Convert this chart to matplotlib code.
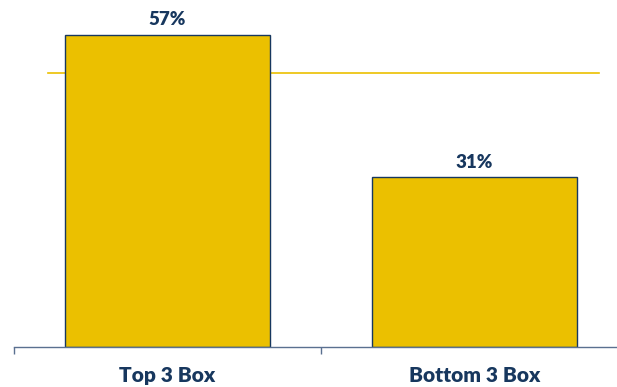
import matplotlib
matplotlib.use("Agg")
import matplotlib.pyplot as plt

categories = ["Top 3 Box", "Bottom 3 Box"]
values = [57, 31]
value_labels = ["57%", "31%"]
reference_value = 50

navy = "#17375E"
gold = "#EBC000"

fig = plt.figure(figsize=(6.17, 3.87), dpi=100)
W, H = 617, 387
ax = fig.add_axes([14 / W, (H - 347) / H, 614 / W, 345 / H])

x = list(range(len(categories)))
ax.bar(x, values, width=0.665, color=gold, edgecolor=navy, linewidth=1.0, zorder=2)
ax.plot([-0.39, 1.407], [reference_value, reference_value], color=gold, linewidth=1.2, zorder=1)

for xi, v, lab in zip(x, values, value_labels):
    ax.text(xi, v + 1.2, lab, ha="center", va="bottom", color=navy,
            fontsize=13.5, fontweight="heavy", family=["Lato", "DejaVu Sans"])

ax.set_xlim(-0.5, 1.5)
ax.set_ylim(0, 63)
for s in ["top", "right", "left"]:
    ax.spines[s].set_visible(False)
ax.spines["bottom"].set_color("#5A7090")
ax.spines["bottom"].set_linewidth(1.0)
ax.set_yticks([])
ax.set_xticks([-0.5, 0.5, 1.5])
ax.set_xticklabels([])
ax.tick_params(axis="x", which="major", length=5, color="#5A7090", width=1.0)
ax.set_xticks(x, minor=True)
ax.set_xticklabels(categories, minor=True, color=navy, fontsize=15,
                   fontweight="heavy", family=["Lato", "DejaVu Sans"])
ax.tick_params(axis="x", which="minor", length=0, pad=14)

fig.savefig("out.png", dpi=100)
